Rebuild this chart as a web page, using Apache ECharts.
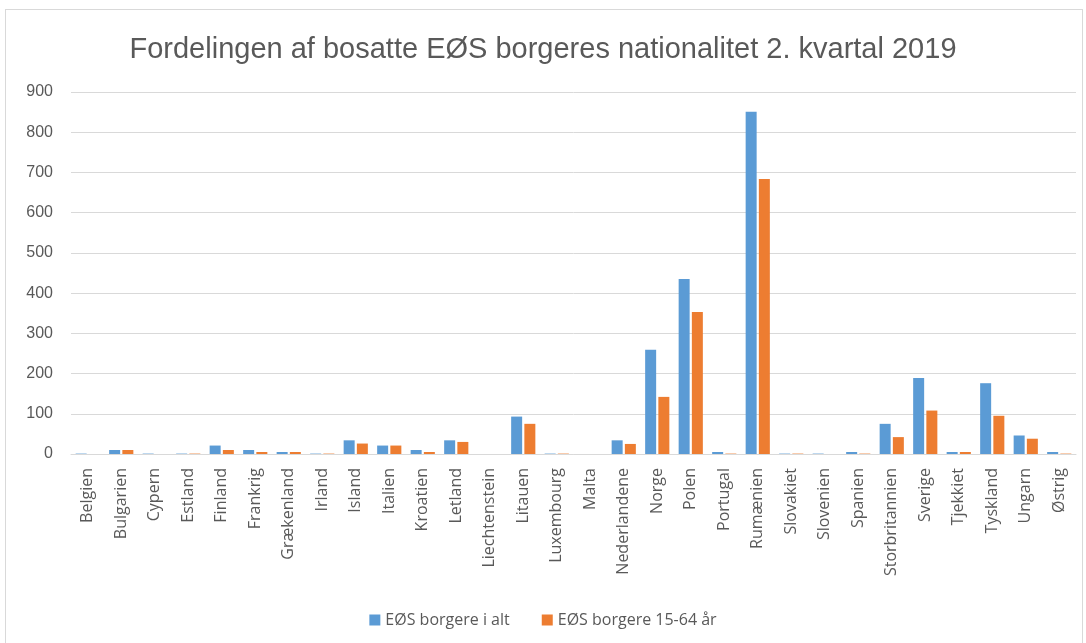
<!DOCTYPE html>
<html>
<head>
<meta charset="utf-8">
<script src="https://cdn.jsdelivr.net/npm/echarts@6/dist/echarts.min.js"></script>
<style>
  html, body { margin: 0; padding: 0; background: #fff; }
  #chart { width: 1086px; height: 643px; position: relative; }
  #frame { position: absolute; left: 5px; top: 9px; width: 1078px; height: 640px; border: 1px solid #d9d9d9; box-sizing: border-box; pointer-events: none; }
</style>
</head>
<body>
<div id="chart"></div>
<div id="frame"></div>
<script>
let countries = ["Belgien", "Bulgarien", "Cypern", "Estland", "Finland", "Frankrig", "Grækenland", "Irland",
    "Island", "Italien", "Kroatien", "Letland", "Liechtenstein", "Litauen", "Luxembourg", "Malta",
    "Nederlandene", "Norge", "Polen", "Portugal", "Rumænien", "Slovakiet", "Slovenien", "Spanien",
    "Storbritannien", "Sverige", "Tjekkiet", "Tyskland", "Ungarn", "Østrig"];
let total = [1, 10, 1, 1, 21, 10, 5, 1, 34, 21, 10, 34, 0, 93, 1, 0, 34, 259, 435, 5, 851, 1, 1, 5, 75, 189, 5, 176, 46, 5];
let age15to64 = [0, 10, 0, 1, 10, 5, 5, 1, 26, 21, 5, 30, 0, 75, 1, 0, 25, 142, 353, 1, 684, 1, 0, 1, 42, 108, 5, 95, 38, 1];
let yTicks = { min: 0, max: 900, interval: 100 };

let chart = echarts.init(document.getElementById("chart"));
let option = {
    color: ["#5B9BD5", "#ED7D31"],
    animation: false,
    title: {
        text: "Fordelingen af bosatte EØS borgeres nationalitet 2. kvartal 2019",
        left: "center",
        top: 30,
        textStyle: {
            fontFamily: "Liberation Sans, sans-serif",
            fontSize: 29,
            fontWeight: "normal",
            color: "#595959"
        }
    },
    legend: {
        top: 607,
        left: "center",
        itemWidth: 11,
        itemHeight: 11,
        itemGap: 32,
        icon: "rect",
        textStyle: { fontFamily: "Open Sans", fontSize: 16, color: "#595959" },
        data: ["EØS borgere i alt", "EØS borgere 15-64 år"]
    },
    grid: { left: 71, right: 10, top: 92, bottom: 189 },
    xAxis: {
        type: "category",
        data: countries,
        axisTick: { show: false },
        axisLine: { lineStyle: { color: "#d9d9d9" } },
        axisLabel: {
            rotate: 90,
            interval: 0,
            margin: 14,
            fontFamily: "Open Sans",
            fontSize: 16,
            color: "#595959"
        }
    },
    yAxis: {
        type: "value",
        min: yTicks.min,
        max: yTicks.max,
        interval: yTicks.interval,
        axisLine: { show: false },
        axisTick: { show: false },
        splitLine: { lineStyle: { color: "#d9d9d9" } },
        axisLabel: {
            margin: 18,
            fontFamily: "Liberation Sans, sans-serif",
            fontSize: 16,
            color: "#595959"
        }
    },
    series: [
        { name: "EØS borgere i alt", type: "bar", data: total, barWidth: 11, barGap: "20%" },
        { name: "EØS borgere 15-64 år", type: "bar", data: age15to64, barWidth: 11 }
    ]
};
chart.setOption(option);
</script>
</body>
</html>
